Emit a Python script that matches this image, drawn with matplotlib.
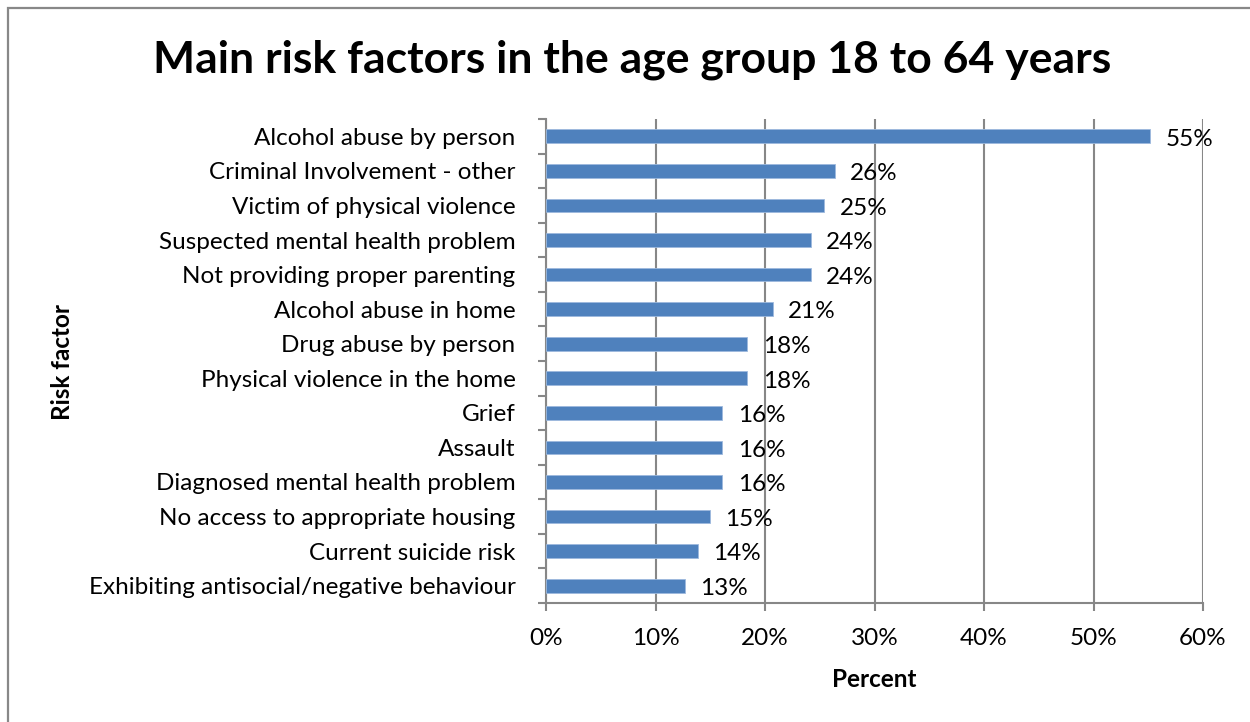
import matplotlib
matplotlib.use("Agg")
import matplotlib.pyplot as plt
from matplotlib.patches import Rectangle
from matplotlib.ticker import FuncFormatter

categories = [
    "Alcohol abuse by person",
    "Criminal Involvement - other",
    "Victim of physical violence",
    "Suspected mental health problem",
    "Not providing proper parenting",
    "Alcohol abuse in home",
    "Drug abuse by person",
    "Physical violence in the home",
    "Grief",
    "Assault",
    "Diagnosed mental health problem",
    "No access to appropriate housing",
    "Current suicide risk",
    "Exhibiting antisocial/negative behaviour",
]
values = [55.2, 26.4, 25.4, 24.2, 24.2, 20.7, 18.4, 18.4, 16.1, 16.1, 16.1, 15.0, 13.9, 12.7]
xticks = [0, 10, 20, 30, 40, 50, 60]

plt.rcParams['font.family'] = ['Lato', 'DejaVu Sans']

W, H = 1250, 722
fig = plt.figure(figsize=(W / 100, H / 100), dpi=100)
fig.patch.set_facecolor('white')

# outer chart border
fig.patches.append(Rectangle((8 / W, -0.05), 1.2, 1 - 8 / H + 0.05,
                             transform=fig.transFigure, fill=False,
                             edgecolor='#888888', linewidth=1.6))

left, right, top, bottom = 546, 1203, 119, 603
ax = fig.add_axes([left / W, 1 - bottom / H, (right - left) / W, (bottom - top) / H])

n = len(categories)
ypos = list(range(n))
bar_color = '#4F81BD'
ax.barh(ypos, values, height=0.4, color=bar_color, edgecolor='#9DB9DD', linewidth=0.6, zorder=3)

ax.set_xlim(0, 60)
ax.set_ylim(n - 0.5, -0.5)
ax.set_xticks(xticks)
ax.xaxis.set_major_formatter(FuncFormatter(lambda v, p: f"{v:.0f}%"))
ax.set_yticks(ypos)
ax.set_yticklabels(categories)
ax.set_yticks([i - 0.5 for i in range(n + 1)], minor=True)

ax.grid(axis='x', color='#878787', linewidth=1.5, zorder=0)
ax.set_axisbelow(True)

for s in ['top', 'right']:
    ax.spines[s].set_visible(False)
for s in ['left', 'bottom']:
    ax.spines[s].set_color('#878787')
    ax.spines[s].set_linewidth(1.5)

fs = 17.5
ax.tick_params(axis='y', which='major', length=0, pad=22, labelsize=fs, labelcolor='black')
ax.tick_params(axis='y', which='minor', length=6, width=1.5, color='#878787', direction='out')
ax.tick_params(axis='x', which='major', length=6, width=1.5, color='#878787', direction='out',
               pad=12, labelsize=fs, labelcolor='black')

for i, v in enumerate(values):
    ax.annotate(f"{v:.0f}%", xy=(v, i), xytext=(11, -2), textcoords='offset points',
                va='center', ha='left', fontsize=fs, color='black', zorder=4)

ax.set_xlabel("Percent", fontsize=fs, fontweight='bold', labelpad=14)
fig.text(62 / W, 1 - 362 / H, "Risk factor", rotation=90, ha='center', va='center',
         fontsize=fs, fontweight='bold')

fig.text(632 / W, 1 - 60 / H, "Main risk factors in the age group 18 to 64 years",
         ha='center', va='center', fontsize=32, fontweight='bold')

fig.savefig("out.png", dpi=100, facecolor='white')
